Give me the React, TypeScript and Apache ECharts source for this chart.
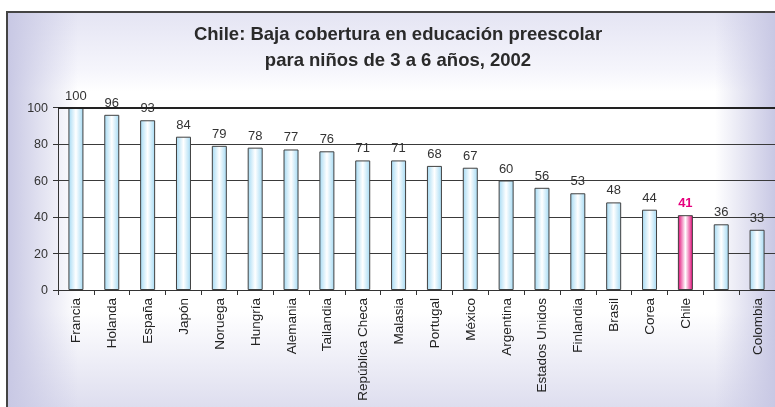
import React, { useEffect, useRef } from "react";
import * as echarts from "echarts";

const titleLines = ["Chile: Baja cobertura en educación preescolar", "para niños de 3 a 6 años, 2002"];
const categories = [
  "Francia", "Holanda", "España", "Japón", "Noruega", "Hungría", "Alemania", "Tailandia",
  "República Checa", "Malasia", "Portugal", "México", "Argentina", "Estados Unidos",
  "Finlandia", "Brasil", "Corea", "Chile", "", "Colombia",
];
const values = [100, 96, 93, 84, 79, 78, 77, 76, 71, 71, 68, 67, 60, 56, 53, 48, 44, 41, 36, 33];
const highlight = "Chile";
const yTicks = [0, 20, 40, 60, 80, 100];

const FONT = "'Liberation Sans', Arial, sans-serif";

export default function App() {
  const ref = useRef<HTMLDivElement>(null);
  useEffect(() => {
    if (!ref.current) return;
    const chart = echarts.init(ref.current, undefined, { renderer: "svg" });
    const blueFill = new echarts.graphic.LinearGradient(0, 0, 1, 0, [
      { offset: 0, color: "#a9dcf4" },
      { offset: 0.5, color: "#ffffff" },
      { offset: 1, color: "#a9dcf4" },
    ]);
    const pinkFill = new echarts.graphic.LinearGradient(0, 0, 1, 0, [
      { offset: 0, color: "#e3127c" },
      { offset: 0.5, color: "#ffffff" },
      { offset: 1, color: "#e3127c" },
    ]);
    const data = values.map((v, i) => {
      const isH = categories[i] === highlight;
      return {
        value: v,
        itemStyle: { color: isH ? pinkFill : blueFill, borderColor: "#404040", borderWidth: 1 },
        label: isH
          ? { color: "#e6007e", fontWeight: "bold" as const }
          : { color: "#333333" },
      };
    });
    chart.setOption({
      animation: false,
      graphic: [
        {
          type: "rect",
          z: -10,
          shape: { x: 7, y: 12, width: 780, height: 400 },
          style: {
            fill: new echarts.graphic.LinearGradient(0, 0, 0, 1, [
              { offset: 0, color: "#e4e4f3" },
              { offset: 0.15, color: "#f6f6fc" },
              { offset: 0.2, color: "#ffffff" },
              { offset: 0.75, color: "#ffffff" },
              { offset: 1, color: "#dcdcee" },
            ]),
            stroke: "#444444",
            lineWidth: 2,
          },
        },
        {
          type: "rect",
          z: -9,
          shape: { x: 8, y: 13, width: 70, height: 398 },
          style: {
            fill: new echarts.graphic.LinearGradient(0, 0, 1, 0, [
              { offset: 0, color: "rgba(200,200,228,1)" },
              { offset: 1, color: "rgba(200,200,228,0)" },
            ]),
          },
        },
        {
          type: "rect",
          z: -9,
          shape: { x: 715, y: 13, width: 60, height: 398 },
          style: {
            fill: new echarts.graphic.LinearGradient(0, 0, 1, 0, [
              { offset: 0, color: "rgba(200,200,228,0)" },
              { offset: 1, color: "rgba(200,200,228,1)" },
            ]),
          },
        },
        {
          type: "text",
          z: 10,
          x: 398,
          y: 20,
          style: {
            text: titleLines.join("\n"),
            font: `bold 18.5px ${FONT}`,
            fill: "#2a2a2a",
            align: "center",
            lineHeight: 26,
          },
        },
      ],
      grid: { left: 58, top: 107.5, width: 722, height: 182.5, containLabel: false },
      xAxis: {
        type: "category",
        data: categories,
        axisLine: { lineStyle: { color: "#333333", width: 1 } },
        axisTick: { show: true, length: 5, alignWithLabel: false, lineStyle: { color: "#333333" } },
        axisLabel: { rotate: 90, margin: 8, fontSize: 13.5, fontFamily: FONT, color: "#222222", interval: 0 },
      },
      yAxis: {
        type: "value",
        min: 0,
        max: 100,
        interval: 20,
        axisLine: { show: true, lineStyle: { color: "#333333" } },
        axisTick: { show: true, length: 5, lineStyle: { color: "#333333" } },
        axisLabel: {
          fontSize: 12.5,
          fontFamily: FONT,
          color: "#333333",
          margin: 10,
          formatter: (v: number) => (yTicks.includes(v) ? String(v) : ""),
        },
        splitLine: { show: true, lineStyle: { color: "#3a3a3a", width: 1 } },
      },
      series: [
        {
          type: "bar",
          data,
          barWidth: 15,
          label: { show: true, position: "top", distance: 6, fontSize: 13, fontFamily: FONT },
          markLine: {
            silent: true,
            symbol: "none",
            label: { show: false },
            lineStyle: { color: "#222222", width: 2, type: "solid" },
            data: [{ yAxis: 100 }],
          },
        },
      ],
    });
    return () => chart.dispose();
  }, []);
  return (
    <div
      ref={ref}
      style={{ position: "fixed", left: 0, top: 0, width: 775, height: 407 }}
    />
  );
}
